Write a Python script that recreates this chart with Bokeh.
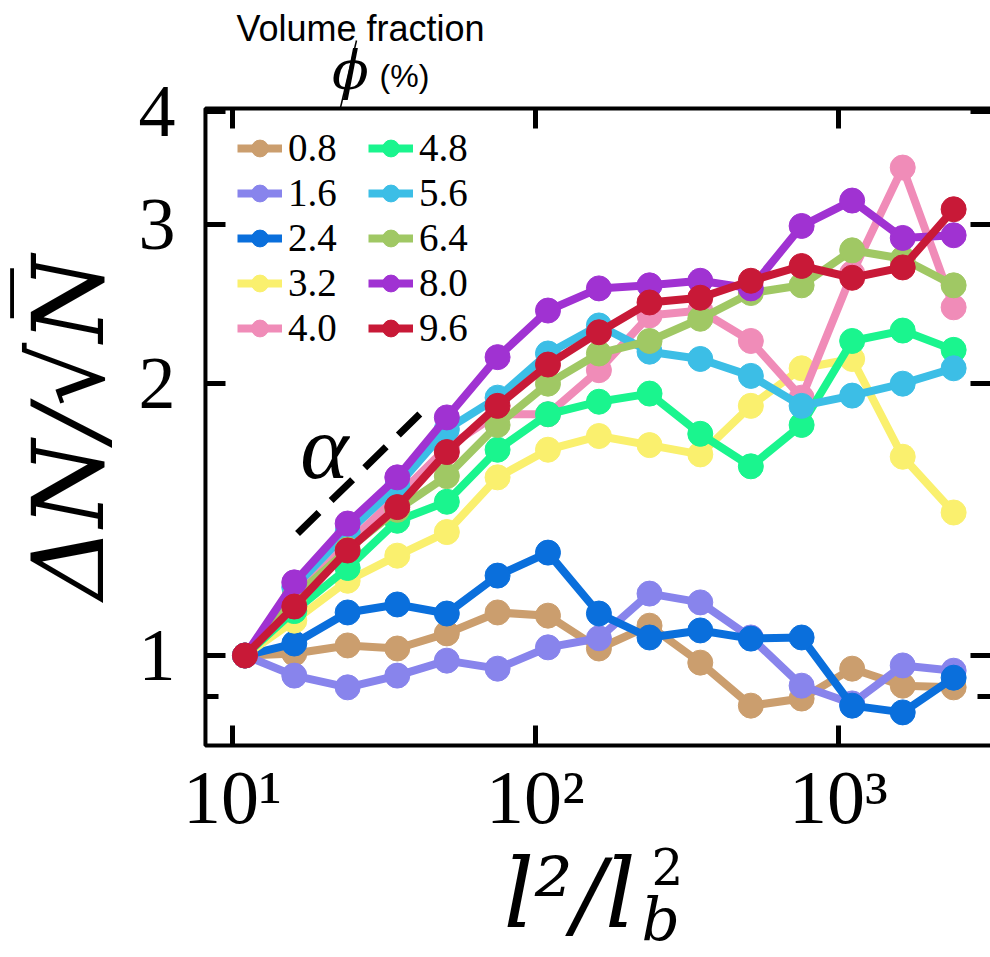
import math
from bokeh.plotting import figure
from bokeh.models import (FixedTicker, LogAxis, Legend, LegendItem, Label, Arrow,
                          BasicTickFormatter, BoxAnnotation)
from bokeh.embed import file_html
from bokeh.resources import INLINE

# ---------------- data ----------------
l2_ratio = [11, 16, 24, 35, 51, 75, 110, 162, 238, 350, 514, 756, 1110, 1630, 2400]

phi_labels = ["0.8", "1.6", "2.4", "3.2", "4.0", "4.8", "5.6", "6.4", "8.0", "9.6"]
phi_colors = ["#CB9E6E", "#8884EC", "#0A6FDC", "#FAF06E", "#F08CB8",
              "#1AF58E", "#3CBEE6", "#A0C864", "#A032D2", "#C81937"]

dn_0_8 = [1.00, 1.005, 1.026, 1.018, 1.058, 1.116, 1.107, 1.018, 1.079, 0.982, 0.880, 0.896, 0.967, 0.926, 0.922]
dn_1_6 = [1.00, 0.950, 0.922, 0.950, 0.987, 0.967, 1.021, 1.045, 1.171, 1.145, 1.047, 0.926, 0.885, 0.975, 0.962]
dn_2_4 = [1.00, 1.031, 1.116, 1.139, 1.113, 1.226, 1.300, 1.113, 1.047, 1.066, 1.044, 1.047, 0.880, 0.865, 0.945]
dn_3_2 = [1.00, 1.093, 1.21, 1.29, 1.37, 1.575, 1.69, 1.75, 1.71, 1.67, 1.89, 2.08, 2.13, 1.66, 1.44]
dn_4_0 = [1.00, 1.16, 1.33, 1.50, 1.70, 1.85, 1.85, 2.07, 2.38, 2.41, 2.23, 1.93, 2.65, 3.47, 2.43]
dn_4_8 = [1.00, 1.12, 1.25, 1.41, 1.48, 1.69, 1.85, 1.91, 1.95, 1.76, 1.62, 1.80, 2.23, 2.29, 2.18]
dn_5_6 = [1.00, 1.19, 1.37, 1.54, 1.78, 1.93, 2.16, 2.32, 2.17, 2.13, 2.04, 1.89, 1.94, 2.00, 2.08]
dn_6_4 = [1.00, 1.16, 1.31, 1.45, 1.58, 1.80, 2.00, 2.16, 2.23, 2.36, 2.52, 2.57, 2.81, 2.75, 2.57]
dn_8_0 = [1.00, 1.205, 1.40, 1.575, 1.835, 2.14, 2.41, 2.55, 2.57, 2.60, 2.55, 2.99, 3.19, 2.90, 2.92]
dn_9_6 = [1.00, 1.133, 1.307, 1.46, 1.68, 1.89, 2.10, 2.28, 2.46, 2.49, 2.60, 2.70, 2.62, 2.69, 3.12]

series = [dn_0_8, dn_1_6, dn_2_4, dn_3_2, dn_4_0, dn_4_8, dn_5_6, dn_6_4, dn_8_0, dn_9_6]

x_ticks = [10, 100, 1000]
x_tick_labels = ["10¹", "10²", "10³"]
y_ticks = [1, 2, 3, 4]
y_minor_ticks = [0.9]

# visible axes box (data units) and the full canvas extent (data units)
box_x = (8.146, 3176)
box_y = (0.795, 4.035)
canvas_x = (1.716, 3176)
canvas_y = (0.4630, 5.313)

# dashed slope guide and its label (data coordinates)
alpha_guide_x = [16.4, 41.7]
alpha_guide_y = [1.365, 1.854]
alpha_label_pos = (20.1, 1.70)

SERIF = "Liberation Serif"
SANS = "Liberation Sans"
MATH = "DejaVu Serif"
W, H = 990, 957

p = figure(width=W, height=H, x_axis_type="log", y_axis_type="log",
           x_range=canvas_x, y_range=canvas_y,
           output_backend="svg", toolbar_location=None, min_border=0)
p.background_fill_color = "white"
p.border_fill_color = "white"
p.outline_line_color = None
p.xgrid.visible = False
p.ygrid.visible = False


def style_axis(ax):
    ax.axis_line_color = None
    ax.major_tick_in = 20
    ax.major_tick_out = 0
    ax.major_tick_line_width = 5
    ax.minor_tick_in = 13
    ax.minor_tick_out = 0
    ax.minor_tick_line_width = 5
    ax.major_label_text_color = "black"


xax = p.xaxis[0]
xax.fixed_location = box_y[0]
xax.ticker = FixedTicker(ticks=x_ticks, minor_ticks=[])
xax.formatter = BasicTickFormatter()
xax.major_label_overrides = {float(t): s for t, s in zip(x_ticks, x_tick_labels)}
xax.major_label_text_font = SERIF
xax.major_label_text_font_size = "76px"
xax.major_label_standoff = 10
style_axis(xax)

yax = p.yaxis[0]
yax.fixed_location = box_x[0]
yax.ticker = FixedTicker(ticks=y_ticks, minor_ticks=y_minor_ticks)
yax.formatter = BasicTickFormatter()
yax.major_label_overrides = {float(t): str(t) for t in y_ticks}
yax.major_label_text_font = SERIF
yax.major_label_text_font_size = "74px"
yax.major_label_standoff = 30
yax.major_label_orientation = "horizontal"
style_axis(yax)

top_ax = LogAxis(fixed_location=box_y[1], ticker=FixedTicker(ticks=x_ticks, minor_ticks=[]),
                 major_label_text_font_size="1px", major_label_text_alpha=0,
                 major_label_standoff=0)
style_axis(top_ax)
p.add_layout(top_ax, "above")
right_ax = LogAxis(fixed_location=box_x[1], ticker=FixedTicker(ticks=y_ticks, minor_ticks=y_minor_ticks),
                   major_label_text_font_size="1px", major_label_text_alpha=0,
                   major_label_standoff=0)
style_axis(right_ax)
p.add_layout(right_ax, "right")

# axes box (its right side lies just past the cut-off right edge, as in the figure)
p.add_layout(BoxAnnotation(left=box_x[0], right=box_x[1] * 1.05, bottom=box_y[0], top=box_y[1],
                           fill_alpha=0, line_color="black", line_alpha=1.0, line_width=4,
                           level="underlay"))

# dashed guide
p.line(alpha_guide_x, alpha_guide_y, line_color="black", line_width=7, line_dash="30 17")
p.add_layout(Label(x=alpha_label_pos[0], y=alpha_label_pos[1], text="α",
                   text_font=SERIF, text_font_style="italic", text_color="black",
                   text_font_size="92px", text_align="center", text_baseline="middle"))

items = []
for lab_txt, col, vals in zip(phi_labels, phi_colors, series):
    rl = p.line(l2_ratio, vals, line_color=col, line_width=8)
    rs = p.scatter(l2_ratio, vals, size=25, fill_color=col, line_color=col)
    items.append(LegendItem(label=lab_txt, renderers=[rl, rs]))

legend = Legend(items=items, ncols=2, location=(237, H - 350),
                glyph_width=45, glyph_height=42, spacing=0,
                label_standoff=6, label_width=80, label_height=42,
                label_text_font=SERIF, label_text_font_size="39px",
                label_text_line_height=1.0, label_text_color="black",
                padding=0, margin=0,
                background_fill_alpha=0, border_line_color=None)
p.add_layout(legend)


# ---- texts around the box (screen units; frame = whole canvas) ----
def lab(X, Y, text, font, size, style="normal", angle=0.0, align="center"):
    p.add_layout(Label(x=X, y=H - Y, x_units="screen", y_units="screen", text=text,
                       text_font=font, text_font_style=style, text_font_size=size,
                       angle=angle, text_align=align, text_baseline="middle",
                       text_color="black"))


lab(360, 28, "Volume fraction", SANS, "36px")
lab(350, 70, "ϕ", MATH, "54px", style="italic")
lab(404, 75, "(%)", SANS, "32px")
p.add_layout(Arrow(x_start=356, y_start=H - 40, x_end=340, y_end=H - 107,
                   start_units="screen", end_units="screen", start=None, end=None,
                   line_color="black", line_width=1.5))

# y axis label
lab(68, 427, "ΔN/√N\u0305", MATH, "100px", style="italic", angle=math.pi / 2)

# x axis label  l²/l_b²
lab(503, 893, "l²/l", MATH, "96px", style="italic", align="left")
lab(651, 866, "2", MATH, "50px", align="left")
lab(641, 918, "b", MATH, "60px", style="italic", align="left")

open("out.html", "w").write(file_html(p, INLINE))
